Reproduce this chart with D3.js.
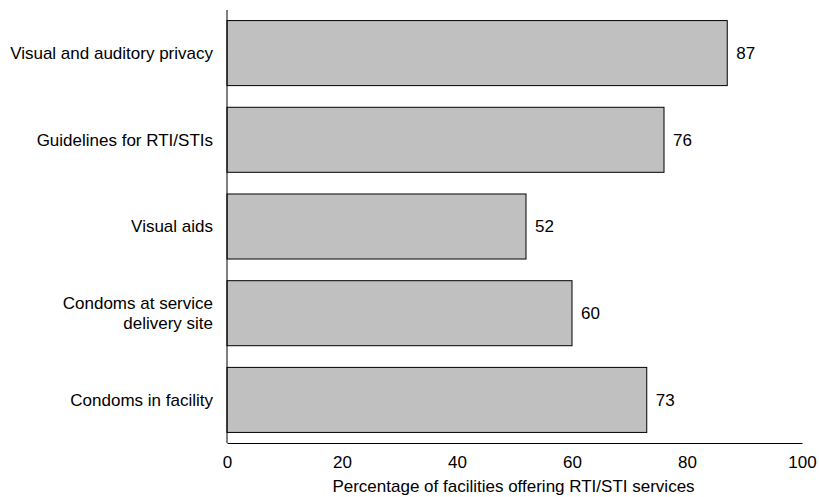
<!DOCTYPE html>
<html><head><meta charset="utf-8">
<script src="https://cdn.jsdelivr.net/npm/d3@7"></script>
<style>body{margin:0;background:#fff}svg{display:block}text{font-family:"Liberation Sans",Arial,sans-serif;fill:#000}</style>
</head><body><svg id="c" width="819" height="497"></svg>
<script>
const categories = [["Visual and auditory privacy"],["Guidelines for RTI/STIs"],["Visual aids"],["Condoms at service","delivery site"],["Condoms in facility"]];
const values = [87,76,52,60,73];
const ticks = [0,20,40,60,80,100];

(function(){
const svg = d3.select("#c");
const mL = 227, mR = 802, mT = 10, mB = 443;
const x = d3.scaleLinear().domain([0,100]).range([mL,mR]);
const y = d3.scaleBand().domain(d3.range(values.length)).range([mT,mB]).paddingInner(0.25).paddingOuter(0.122);
const fs = 17;

svg.selectAll("rect.bar").data(values).join("rect")
  .attr("x", x(0)).attr("y",(d,i)=>y(i)).attr("width",d=>x(d)-x(0)).attr("height",y.bandwidth())
  .attr("fill","#c0c0c0").attr("stroke","#000").attr("stroke-width",1);

svg.selectAll("text.val").data(values).join("text")
  .attr("x",d=>x(d)+9).attr("y",(d,i)=>y(i)+y.bandwidth()/2).attr("dy","0.35em")
  .attr("font-size",fs).text(d=>d);

const lab = svg.selectAll("text.cat").data(categories).join("text")
  .attr("text-anchor","end").attr("font-size",fs)
  .attr("x",mL-14).attr("y",(d,i)=>y(i)+y.bandwidth()/2);
lab.each(function(d){
  const t=d3.select(this); const n=d.length;
  d.forEach((s,k)=>t.append("tspan").attr("x",mL-14).attr("dy",k===0?((0.35-(n-1)*0.57)+"em"):"1.14em").text(s));
});

const xa = svg.append("g").attr("transform",`translate(0,${mB})`)
  .call(d3.axisBottom(x).tickValues(ticks).tickSize(0).tickPadding(13));
xa.select(".domain").attr("stroke","#000");
xa.selectAll("text").attr("font-size",fs).style("font-family","'Liberation Sans',Arial,sans-serif");

svg.append("line").attr("x1",mL).attr("x2",mL).attr("y1",mT).attr("y2",mB).attr("stroke","#000");

svg.append("text").attr("x",513.5).attr("y",492).attr("text-anchor","middle").attr("font-size",fs)
  .text("Percentage of facilities offering RTI/STI services");
})();
</script></body></html>
